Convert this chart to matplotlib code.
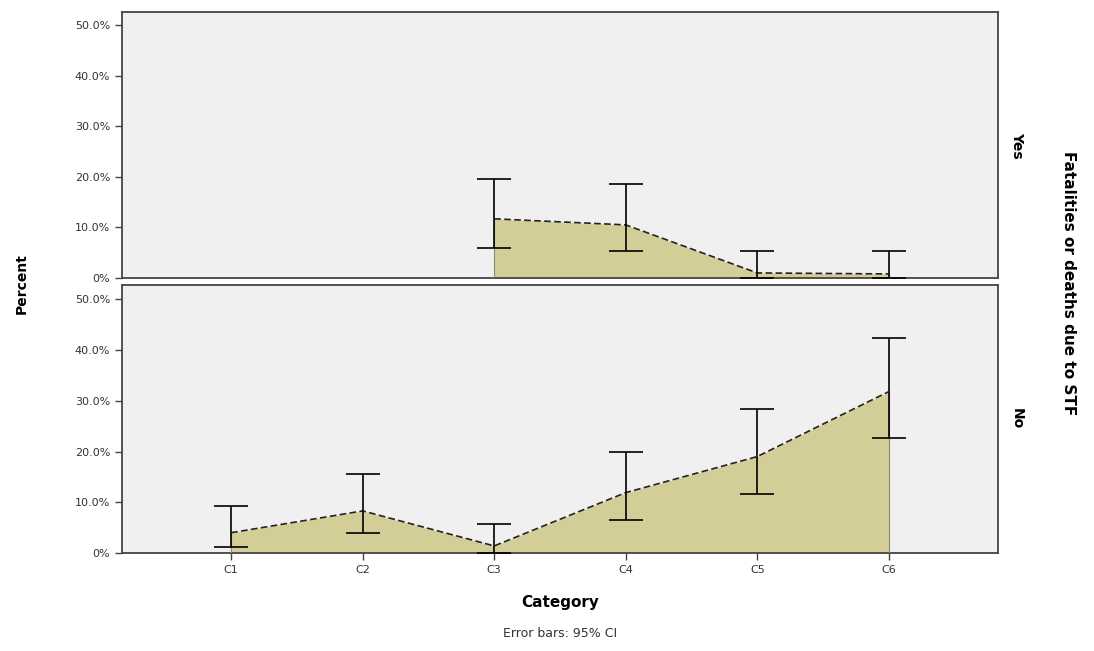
import matplotlib
matplotlib.use("Agg")
import matplotlib.pyplot as plt
import numpy as np

# ---- data ----
categories = ["C1", "C2", "C3", "C4", "C5", "C6"]

# Fatalities = Yes (only C3..C6 present)
yes_cats = ["C3", "C4", "C5", "C6"]
yes_pct = [11.7, 10.5, 1.0, 0.8]
yes_lo = [6.0, 5.4, 0.0, 0.0]
yes_hi = [19.6, 18.5, 5.4, 5.4]

# Fatalities = No
no_cats = ["C1", "C2", "C3", "C4", "C5", "C6"]
no_pct = [4.0, 8.3, 1.4, 11.9, 19.0, 31.8]
no_lo = [1.2, 4.0, 0.0, 6.5, 11.7, 22.7]
no_hi = [9.3, 15.6, 5.7, 20.0, 28.3, 42.3]

yticks = [0, 10, 20, 30, 40, 50]
ytick_labels = ["0%", "10.0%", "20.0%", "30.0%", "40.0%", "50.0%"]

FILL = "#D3CE97"
BG = "#F0F0F0"

fig = plt.figure(figsize=(10.94, 6.51), dpi=100)
ax_top = fig.add_axes([0.1115, 0.573, 0.8007, 0.4086])
ax_bot = fig.add_axes([0.1115, 0.1505, 0.8007, 0.4117])


def draw_panel(ax, cats, pct, lo, hi, ymax):
    # category positions 1..6
    x = np.array([categories.index(c) + 1 for c in cats], dtype=float)
    y = np.array(pct)
    ax.set_facecolor(BG)
    ax.fill_between(x, 0, y, color=FILL, linewidth=0, zorder=2)
    # vertical edges of the area
    ax.plot([x[0], x[0]], [0, y[0]], color="#8a8a70", lw=0.8, zorder=3)
    ax.plot([x[-1], x[-1]], [0, y[-1]], color="#8a8a70", lw=0.8, zorder=3)
    ax.plot(x, y, color="#222222", lw=1.2, ls=(0, (4, 2)), zorder=4)
    err = [y - np.array(lo), np.array(hi) - y]
    ax.errorbar(x, y, yerr=err, fmt="none", ecolor="black", elinewidth=1.2,
                capsize=12, capthick=1.2, zorder=5)
    ax.set_xlim(0.17, 6.83)
    ax.set_ylim(0, ymax)
    ax.set_yticks(yticks)
    ax.set_yticklabels(ytick_labels, fontsize=8, color="#333333")
    ax.set_xticks(range(1, len(categories) + 1))
    for s in ax.spines.values():
        s.set_color("#444444")
        s.set_linewidth(1.3)
    ax.tick_params(axis="y", direction="out", length=5, width=1, color="#444444")


draw_panel(ax_top, yes_cats, yes_pct, yes_lo, yes_hi, 52.6)
draw_panel(ax_bot, no_cats, no_pct, no_lo, no_hi, 52.8)

ax_top.set_xticklabels([])
ax_top.tick_params(axis="x", length=0)
ax_bot.set_xticklabels(categories, fontsize=8, color="#333333")
ax_bot.tick_params(axis="x", direction="out", length=5, width=1, color="#444444")

ax_top.text(1.022, 0.5, "Yes", transform=ax_top.transAxes, rotation=-90,
            ha="center", va="center", fontsize=10, fontweight="bold",
            family="Liberation Sans Narrow")
ax_bot.text(1.022, 0.5, "No", transform=ax_bot.transAxes, rotation=-90,
            ha="center", va="center", fontsize=10, fontweight="bold",
            family="Liberation Sans Narrow")

fig.text(0.977, 0.565, "Fatalities or deaths due to STF", rotation=-90,
         ha="center", va="center", fontsize=11, fontweight="bold",
         family="Liberation Sans Narrow")
fig.text(0.02, 0.565, "Percent", rotation=90, ha="center", va="center",
         fontsize=10, fontweight="bold", family="Liberation Sans Narrow")
fig.text(0.512, 0.075, "Category", ha="center", va="center",
         fontsize=11, fontweight="bold")
fig.text(0.512, 0.027, "Error bars: 95% CI", ha="center", va="center",
         fontsize=9, color="#333333")

fig.savefig("out.png", dpi=100, facecolor="white")
